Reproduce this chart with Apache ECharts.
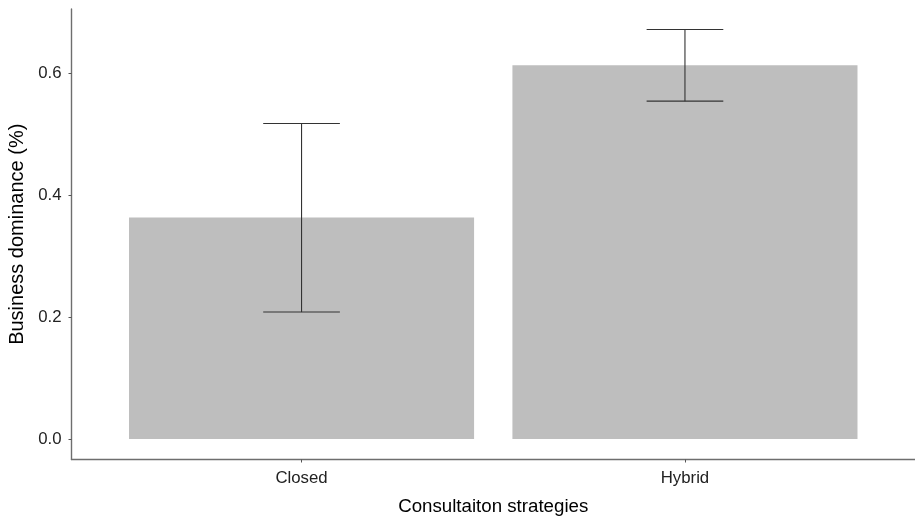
<!DOCTYPE html>
<html>
<head>
<meta charset="utf-8">
<script src="https://cdn.jsdelivr.net/npm/echarts@6/dist/echarts.min.js"></script>
<style>html,body{margin:0;padding:0;background:#fff;}#c{width:915px;height:519px;}</style>
</head>
<body>
<div id="c"></div>
<script>
const categories = ['Closed', 'Hybrid'];
const means = [0.3634, 0.6131];
const lower = [0.2082, 0.5541];
const upper = [0.5175, 0.6716];
const yTicks = [0, 0.2, 0.4, 0.6];

const chart = echarts.init(document.getElementById('c'), null, {renderer: 'canvas'});
const dataTop = Math.max(...upper);
const ymin = -0.05 * dataTop, ymax = 1.05 * dataTop;
const positions = categories.map((c, i) => i + 1);
const font = 'Liberation Sans, Arial, sans-serif';

chart.setOption({
  animation: false,
  backgroundColor: '#fff',
  grid: {left: 71.5, right: 0, top: 9, bottom: 59.5, containLabel: false, outerBoundsMode: 'none'},
  xAxis: {
    type: 'value', min: 0.4, max: 2.6,
    name: 'Consultaiton strategies', nameLocation: 'middle', nameGap: 38,
    nameTextStyle: {fontFamily: font, fontSize: 18.7, color: '#000'},
    axisLine: {show: true, onZero: false, lineStyle: {color: '#6e6e6e', width: 1.4}},
    axisTick: {show: true, customValues: positions, length: 3, lineStyle: {color: '#555'}},
    axisLabel: {customValues: positions, margin: 10, fontFamily: font, fontSize: 16.8, color: '#222',
      formatter: v => categories[Math.round(v) - 1] || ''},
    splitLine: {show: false}
  },
  yAxis: {
    type: 'value', min: ymin, max: ymax,
    name: 'Business dominance (%)', nameLocation: 'middle', nameGap: 44,
    nameTextStyle: {fontFamily: font, fontSize: 20, color: '#000'},
    axisLine: {show: true, onZero: false, lineStyle: {color: '#6e6e6e', width: 1.4}},
    axisTick: {show: true, customValues: yTicks, length: 3, lineStyle: {color: '#555'}},
    axisLabel: {customValues: yTicks, margin: 10, fontFamily: font, fontSize: 16.8, color: '#222',
      formatter: v => v.toFixed(1)},
    splitLine: {show: false}
  },
  series: [
    {
      type: 'custom',
      data: positions.map((p, i) => [p, means[i]]),
      renderItem: function (params, api) {
        const x = api.value(0), y = api.value(1);
        const p0 = api.coord([x - 0.45, 0]);
        const p1 = api.coord([x + 0.45, y]);
        return {type: 'rect', shape: {x: p0[0], y: p1[1], width: p1[0] - p0[0], height: p0[1] - p1[1]},
          style: {fill: '#bebebe'}};
      }
    },
    {
      type: 'custom',
      data: positions.map((p, i) => [p, lower[i], upper[i]]),
      renderItem: function (params, api) {
        const x = api.value(0), lo = api.value(1), hi = api.value(2);
        const a = api.coord([x, hi]), b = api.coord([x, lo]);
        const l1 = api.coord([x - 0.1, hi]), r1 = api.coord([x + 0.1, hi]);
        const l2 = api.coord([x - 0.1, lo]), r2 = api.coord([x + 0.1, lo]);
        const st = {stroke: '#333', lineWidth: 1.1};
        return {type: 'group', children: [
          {type: 'line', shape: {x1: a[0], y1: a[1], x2: b[0], y2: b[1]}, style: st},
          {type: 'line', shape: {x1: l1[0], y1: l1[1], x2: r1[0], y2: r1[1]}, style: st},
          {type: 'line', shape: {x1: l2[0], y1: l2[1], x2: r2[0], y2: r2[1]}, style: st}
        ]};
      }
    }
  ]
});
</script>
</body>
</html>
